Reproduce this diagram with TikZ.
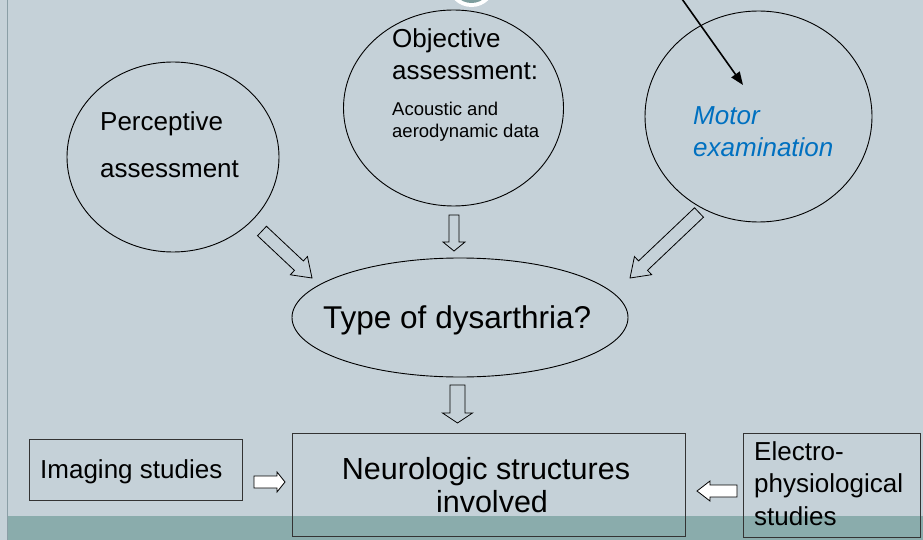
\documentclass[tikz,border=0pt]{standalone}
\usepackage{fontspec}
\setmainfont{Liberation Sans}
\usetikzlibrary{shapes.geometric,arrows.meta,calc}
\definecolor{bg}{HTML}{C5D1D8}
\definecolor{band}{HTML}{8AACAC}
\definecolor{ring}{HTML}{7E9E9E}
\definecolor{motorblue}{HTML}{0070C0}
\definecolor{edgeline}{HTML}{8A9EA6}
\definecolor{boxline}{HTML}{333333}
\newcommand\blockarrow[6]{%
  \coordinate (ba-h) at ($(#2)!#5pt!(#1)$);
  \draw[blockline, fill=#6] ($(#1)!#3pt!90:(#2)$) -- ($(ba-h)!#3pt!90:(#2)$) -- ($(ba-h)!#4pt!90:(#2)$) -- (#2) -- ($(ba-h)!#4pt!-90:(#2)$) -- ($(ba-h)!#3pt!-90:(#2)$) -- ($(#1)!#3pt!-90:(#2)$) -- cycle;
}
\begin{document}
\begin{tikzpicture}[x=1pt,y=-1pt,
  oval/.style={ellipse, draw=black, line width=0.9pt, inner sep=0pt},
  boxnode/.style={rectangle, draw=boxline, line width=0.9pt, inner sep=0pt},
  txt/.style={inner sep=0pt, anchor=base west, font=\fontsize{26}{30}\selectfont},
  smalltxt/.style={inner sep=0pt, anchor=base west, font=\fontsize{18.5}{22}\selectfont},
  blockline/.style={draw=black, line width=0.8pt, line join=miter}]
\useasboundingbox (0,0) rectangle (923,540);
\fill[bg] (0,0) rectangle (923,540);
\fill[band] (7,516) rectangle (923,540);
\draw[edgeline, line width=1pt] (7.5,0) -- (7.5,540);
\begin{scope}
  \clip (0,0) rectangle (923,540);
  \fill[white] (471.5,-17) circle (24);
  \fill[ring] (471.5,-17) circle (20);
\end{scope}

% ovals
\node[oval, minimum width=212pt, minimum height=190pt] (perc) at (173,157) {};
\node[oval, minimum width=220pt, minimum height=196pt] (obj) at (453.5,108) {};
\node[oval, minimum width=227pt, minimum height=211pt] (motor) at (758.5,116.5) {};
\node[oval, minimum width=336pt, minimum height=119pt] (type) at (460,317.5) {};

% boxes
\node[boxnode, minimum width=393pt, minimum height=103pt] (neuro) at (488.5,484.5) {};
\node[boxnode, minimum width=213pt, minimum height=61pt] (imaging) at (135.5,469.5) {};
\node[boxnode, minimum width=177pt, minimum height=104pt] (electro) at (831.5,485) {};

% texts
\node[txt] (t1) at (100,131) {Perceptive};
\node[txt] (t2) at (100,178) {assessment};
\node[txt] (t3) at (392,48) {Objective};
\node[txt] (t4) at (392,80) {assessment:};
\node[smalltxt] (t5) at (392,116) {Acoustic and};
\node[smalltxt] (t6) at (392,138) {aerodynamic data};
\node[txt, text=motorblue, font=\fontsize{26}{30}\selectfont\itshape] (t7) at (693,125) {Motor};
\node[txt, text=motorblue, font=\fontsize{26}{30}\selectfont\itshape] (t8) at (693,157) {examination};
\node[txt, font=\fontsize{31.5}{36}\selectfont] (t9) at (323,328) {Type of dysarthria?};
\node[inner sep=0pt, anchor=base, font=\fontsize{30.5}{34}\selectfont] (t10) at (486,479) {Neurologic structures};
\node[inner sep=0pt, anchor=base, font=\fontsize{30.5}{34}\selectfont] (t11) at (492,512) {involved};
\node[txt] (t12) at (40,478) {Imaging studies};
\node[txt] (t13) at (754,460) {Electro-};
\node[txt] (t14) at (754,492) {physiological};
\node[txt] (t15) at (754,525) {studies};

% top arrow
\coordinate (topstart) at (682,-1);
\coordinate (motortip) at (743,85);
\draw[line width=1.6pt, -{Triangle[length=13pt,width=10pt]}] (topstart) -- (motortip);

% block arrows
\coordinate (a1s) at (262,231);
\coordinate (a1e) at (312,278);
\blockarrow{a1s}{a1e}{6.5}{12.5}{18}{none}
\coordinate (a2s) at (454,215);
\coordinate (a2e) at (454,251);
\blockarrow{a2s}{a2e}{5}{11}{9}{none}
\coordinate (a3s) at (699,212.5);
\coordinate (a3e) at (630,278);
\blockarrow{a3s}{a3e}{6.5}{12.5}{18}{none}
\coordinate (a4s) at (457.5,385);
\coordinate (a4e) at (457.5,423);
\blockarrow{a4s}{a4e}{7.5}{15}{10}{none}
\coordinate (a5s) at (254,482);
\coordinate (a5e) at (285,482);
\blockarrow{a5s}{a5e}{6}{10}{8}{white}
\coordinate (a6s) at (737,491);
\coordinate (a6e) at (697,491);
\blockarrow{a6s}{a6e}{6}{10}{13}{white}
\end{tikzpicture}
\end{document}
